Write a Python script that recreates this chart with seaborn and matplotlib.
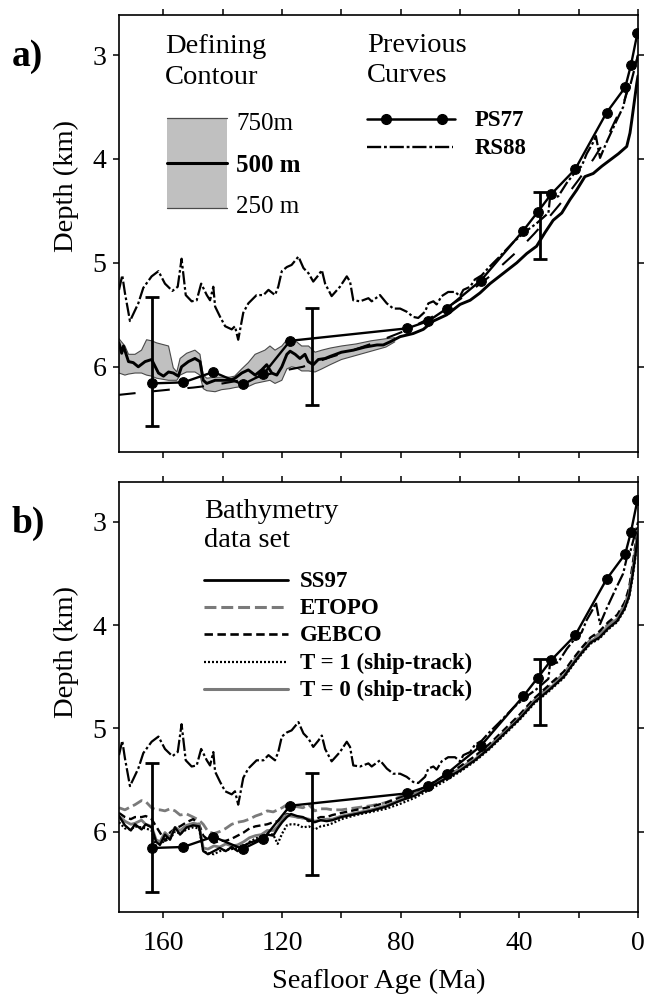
import matplotlib
matplotlib.use("Agg")
import matplotlib.pyplot as plt
from matplotlib.lines import Line2D
from matplotlib.patches import Rectangle
import seaborn as sns

# ---------------- data ----------------
# PS77 (Parsons & Sclater 1977) curve, circles
ps_age = [164, 153.3, 143.2, 133.3, 126.3, 117.3, 77.8, 70.7, 64.5, 53.0, 38.7, 33.8, 29.3, 21.2, 10.6, 4.3, 2.4, 0.2]
ps_dep = [6.16, 6.15, 6.05, 6.17, 6.07, 5.75, 5.63, 5.56, 5.44, 5.17, 4.69, 4.51, 4.34, 4.10, 3.555, 3.31, 3.10, 2.79]

# RS88 curve, dash-dot
rs_age = [175, 173.9, 173, 171.3, 168.5, 166.8, 164, 161.7, 159.5, 157, 155.2, 153.9, 152.5, 150.5, 148.8,
          147.3, 145.4, 144.3, 143.2, 142.6, 140.9, 139.2, 137, 135.9, 134.8, 133.1, 131.4, 128.6, 126.3, 124.6,
          122.4, 121.3, 120.1, 118.4, 116.8, 114.5, 112.8, 111.1, 109.5, 107.8, 106.6, 105.5, 103.3, 100.5, 98.2,
          97.1, 96, 93.7, 90.9, 89.8, 87, 84.7, 82.5, 80.2, 78, 75.8, 74.1, 71.8, 70.7, 69, 67.9, 66.2, 64, 61.7,
          60, 58.9, 56.6, 55, 52.7, 50.5, 47, 42, 38, 34.2, 30.2, 29.7, 26.9, 24, 20.7, 19, 17.3, 15.1, 14.2, 12.8,
          10.6, 7.2, 5, 3.8, 2.7, 1.6, 0.4, 0]
rs_dep = [5.26, 5.12, 5.29, 5.56, 5.39, 5.24, 5.13, 5.08, 5.20, 5.27, 5.23, 4.96, 5.31, 5.37, 5.36,
          5.20, 5.31, 5.36, 5.23, 5.42, 5.52, 5.61, 5.64, 5.61, 5.74, 5.48, 5.39, 5.31, 5.31, 5.26,
          5.31, 5.23, 5.08, 5.04, 5.02, 4.94, 5.05, 5.10, 5.18, 5.12, 5.07, 5.20, 5.32, 5.23, 5.13,
          5.18, 5.36, 5.37, 5.34, 5.37, 5.31, 5.39, 5.44, 5.44, 5.47, 5.52, 5.53, 5.47, 5.39, 5.37, 5.40, 5.32, 5.28, 5.28,
          5.32, 5.26, 5.23, 5.16, 5.12, 5.05, 4.95, 4.80, 4.70, 4.62, 4.52, 4.38, 4.36, 4.23, 4.11, 4.07, 3.95, 3.84, 3.78, 3.99,
          3.84, 3.63, 3.50, 3.35, 3.30, 3.18, 3.05, 3.00]

# unlabeled long-dashed reference curve (panel a)
ld_age = [175, 165, 158, 150, 147, 140, 130, 120, 113, 104, 95, 88, 80, 70, 60, 50, 40, 35, 30, 25, 20, 15, 10, 5, 2, 0]
ld_dep = [6.27, 6.24, 6.22, 6.20, 6.19, 6.16, 6.11, 6.04, 6.00, 5.91, 5.83, 5.76, 5.67, 5.53, 5.35, 5.13, 4.87, 4.72,
          4.56, 4.39, 4.20, 4.00, 3.77, 3.47, 3.22, 3.00]

# panel a: 500 m defining contour curve
a_age = [175, 174.1, 173.5, 171.8, 170.2, 168.5, 166.2, 164, 161.7, 160, 158.3, 156.7, 155, 153.9, 151.6, 149.4,
         147.7, 146.6, 145.4, 142.6, 140.4, 137.6, 135.9, 133.6, 131.4, 129.1, 126.9, 125.2, 123.5, 121.8, 120.1,
         118.4, 117.3, 115.6, 114, 112.3, 111.2, 109.5, 107.8, 105.5, 103.8, 100, 96, 92, 88, 85.9, 83.6, 80.2,
         75.8, 72.4, 69, 64.5, 60, 56.6, 53.3, 49.9, 45.4, 40.9, 37.5, 34.2, 31.4, 28.6, 25.7, 22.9, 20.7, 17.9,
         15.1, 12.2, 9.4, 6.6, 3.8, 2.7, 2.1, 0.4, 0]
a_500 = [5.77, 5.87, 5.80, 5.95, 5.96, 6.00, 5.95, 5.93, 6.06, 6.09, 6.05, 6.06, 6.09, 6.00, 5.95, 5.92,
         5.95, 6.13, 6.16, 6.13, 6.13, 6.13, 6.11, 6.06, 6.03, 6.08, 6.03, 5.98, 6.06, 6.08, 6.00,
         5.88, 5.85, 5.88, 5.92, 5.88, 5.95, 5.98, 5.93, 5.92, 5.90, 5.86, 5.84, 5.81, 5.79, 5.79, 5.76, 5.71,
         5.68, 5.64, 5.56, 5.50, 5.40, 5.36, 5.29, 5.20, 5.10, 5.00, 4.91, 4.84, 4.71, 4.59, 4.52, 4.39, 4.30, 4.17,
         4.14, 4.07, 4.01, 3.95, 3.88, 3.75, 3.63, 3.27, 3.20]

# panel a: 750 m / 250 m contour envelope
band_age = [175, 173, 171.8, 169.6, 167.4, 165.7, 164, 162.3, 158.3, 156.7, 155.5, 154.4, 152.2, 149.4, 147.7, 146.6,
            145.4, 142.6, 140.4, 137.6, 136, 133.6, 131.4, 129.1, 125.8, 124.1, 122.4, 120.1, 118.4, 116.8, 115.1,
            113.4, 111.1, 108.9, 106.6, 103.8, 100, 95, 90, 85, 82]
band_top = [5.73, 5.80, 5.88, 5.88, 5.84, 5.74, 5.75, 5.77, 5.80, 6.01, 6.05, 5.92, 5.87, 5.84, 5.88, 6.08,
            6.11, 6.10, 6.10, 6.10, 6.09, 6.02, 5.96, 5.88, 5.84, 5.80, 5.84, 5.80, 5.74, 5.74, 5.76,
            5.80, 5.80, 5.86, 5.84, 5.82, 5.80, 5.78, 5.75, 5.73, 5.72]
band_bot = [6.06, 6.08, 6.07, 6.06, 6.06, 6.08, 6.09, 6.11, 6.13, 6.13, 6.13, 6.08, 6.05, 6.05, 6.08, 6.21,
            6.23, 6.24, 6.22, 6.21, 6.20, 6.19, 6.19, 6.16, 6.14, 6.13, 6.16, 6.13, 6.02, 6.00, 6.01,
            6.04, 6.04, 6.05, 6.02, 5.98, 5.93, 5.89, 5.85, 5.81, 5.76]

# panel b: bathymetry data sets
b_age = [175, 173, 171, 169.6, 167.4, 166, 164, 162.5, 161.2, 159.5, 157.8, 156.1, 154.4, 152.2, 150, 148, 146.6,
         145, 143, 141, 139, 137, 135, 133, 131, 129, 127, 125, 123, 121.5, 120, 118.4, 117, 115, 113, 111, 109,
         107, 105, 103, 100, 95, 90, 85, 80, 75, 70, 65, 60, 55, 50, 45, 40, 35, 30, 25, 22, 19, 16, 13, 10, 7,
         4.5, 3, 2, 1, 0]
ss97 = [5.85, 5.94, 5.99, 5.93, 5.98, 5.93, 5.96, 6.10, 6.13, 6.03, 6.08, 5.96, 6.03, 5.96, 5.94, 5.95, 6.19,
        6.22, 6.19, 6.16, 6.19, 6.15, 6.19, 6.14, 6.11, 6.09, 6.06, 6.03, 6.04, 5.97, 5.91, 5.86, 5.83, 5.85, 5.86, 5.89, 5.91,
        5.89, 5.90, 5.89, 5.86, 5.83, 5.80, 5.76, 5.70, 5.65, 5.57, 5.49, 5.41, 5.31, 5.19, 5.05, 4.91, 4.75, 4.63, 4.50, 4.38,
        4.27, 4.17, 4.12, 4.03, 3.96, 3.84, 3.72, 3.55, 3.35, 3.12]
etopo = [5.77, 5.79, 5.76, 5.74, 5.70, 5.71, 5.77, 5.79, 5.79, 5.80, 5.78, 5.80, 5.84, 5.83, 5.86, 5.89, 5.93,
         6.00, 6.02, 6.00, 5.97, 5.93, 5.91, 5.90, 5.88, 5.85, 5.83, 5.80, 5.81, 5.79, 5.77, 5.74, 5.74, 5.76, 5.77, 5.74, 5.80,
         5.78, 5.78, 5.79, 5.79, 5.77, 5.75, 5.72, 5.66, 5.62, 5.55, 5.47, 5.39, 5.29, 5.17, 5.03, 4.89, 4.73, 4.60, 4.47, 4.35,
         4.24, 4.14, 4.08, 3.99, 3.92, 3.80, 3.68, 3.50, 3.30, 3.08]
gebco = [5.82, 5.86, 5.88, 5.86, 5.86, 5.85, 5.88, 5.95, 6.01, 6.09, 6.01, 5.97, 5.95, 5.91, 5.88, 5.93, 6.04,
         6.08, 6.11, 6.09, 6.09, 6.07, 6.04, 6.01, 5.97, 5.95, 5.94, 5.93, 5.91, 5.90, 5.86, 5.83, 5.84, 5.86, 5.87, 5.90, 5.88,
         5.86, 5.86, 5.84, 5.82, 5.79, 5.76, 5.72, 5.67, 5.62, 5.54, 5.46, 5.37, 5.27, 5.15, 5.01, 4.87, 4.71, 4.58, 4.45, 4.33,
         4.22, 4.12, 4.06, 3.97, 3.90, 3.78, 3.64, 3.45, 3.25, 3.05]
t1_ship = [5.91, 5.97, 5.98, 5.95, 5.96, 5.97, 5.99, 6.14, 6.12, 6.09, 6.07, 6.00, 6.02, 5.98, 5.96, 5.97, 6.19,
           6.21, 6.22, 6.19, 6.18, 6.17, 6.16, 6.15, 6.10, 6.07, 6.04, 6.02, 6.03, 6.12, 6.02, 5.94, 5.93, 5.93, 5.96, 5.95, 5.98,
           5.95, 5.94, 5.92, 5.88, 5.84, 5.81, 5.78, 5.73, 5.67, 5.59, 5.51, 5.42, 5.32, 5.20, 5.06, 4.92, 4.76, 4.64, 4.51, 4.39,
           4.28, 4.18, 4.13, 4.04, 3.97, 3.85, 3.73, 3.57, 3.37, 3.14]
t0_ship = [5.85, 5.90, 5.93, 5.92, 5.89, 5.93, 5.95, 6.08, 6.10, 6.01, 6.06, 5.96, 5.99, 5.94, 5.92, 5.93, 6.16,
           6.17, 6.14, 6.15, 6.12, 6.14, 6.13, 6.10, 6.06, 6.04, 6.03, 5.99, 5.99, 5.95, 5.88, 5.84, 5.85, 5.86, 5.87, 5.88, 5.90,
           5.89, 5.88, 5.88, 5.85, 5.82, 5.79, 5.75, 5.69, 5.64, 5.56, 5.48, 5.40, 5.30, 5.18, 5.04, 4.90, 4.74, 4.62, 4.49, 4.37,
           4.26, 4.16, 4.10, 4.01, 3.94, 3.82, 3.70, 3.52, 3.32, 3.10]

# error bars
err_age = [164, 110, 33]
err_mid = [5.95, 5.90, 4.64]
err_half = [0.62, 0.47, 0.32]

x_ticks = [0, 40, 80, 120, 160]
x_minor = [20, 60, 100, 140]
y_ticks = [3, 4, 5, 6]

# ---------------- style ----------------
sns.set_theme(style="ticks")
plt.rcParams['font.family'] = ['Liberation Serif', 'DejaVu Serif']
plt.rcParams['axes.linewidth'] = 1.2
for k in ('text.color', 'axes.labelcolor', 'xtick.color', 'ytick.color', 'axes.edgecolor'):
    plt.rcParams[k] = 'black'

W, H = 645, 996
fig = plt.figure(figsize=(W / 100, H / 100), dpi=100)
fig.patch.set_facecolor('white')


def fx(x):
    return x / W


def fy(y):
    return 1 - y / H


axa = fig.add_axes([fx(119), fy(452), (638 - 119) / W, (452 - 15) / H])
axb = fig.add_axes([fx(119), fy(912), (638 - 119) / W, (912 - 482) / H])

RS_LS = (0, (6.0, 1.2, 1.2, 1.2))
LD_LS = (0, (8, 8.5))
ET_LS = (0, (3.9, 1.6))
GE_LS = (0, (3.2, 1.7))
T1_LS = (0, (0.9, 0.9))
GREY = '#7a7a7a'
BANDC = '#c0c0c0'


def line(ax, x, y, **kw):
    sns.lineplot(x=x, y=y, ax=ax, sort=False, estimator=None, legend=False, **kw)


# ---- panel a ----
axa.fill_between(band_age, band_top, band_bot, facecolor=BANDC, edgecolor='none', zorder=1)
line(axa, band_age, band_top, color='#4a4a4a', linewidth=0.8)
line(axa, band_age, band_bot, color='#4a4a4a', linewidth=0.8)
line(axa, ld_age, ld_dep, color='black', linewidth=1.5, linestyle=LD_LS)
line(axa, a_age, a_500, color='black', linewidth=2.1)
line(axa, rs_age, rs_dep, color='black', linewidth=1.6, linestyle=RS_LS)
line(axa, ps_age, ps_dep, color='black', linewidth=1.7, marker='o', markersize=7,
     markeredgecolor='black', markerfacecolor='black')
axa.errorbar(err_age, err_mid, yerr=err_half, fmt='none', ecolor='black', elinewidth=2.0,
             capsize=4.7, capthick=2.0, zorder=5)

# ---- panel b ----
line(axb, b_age, etopo, color=GREY, linewidth=2.0, linestyle=ET_LS)
line(axb, b_age, gebco, color='black', linewidth=1.7, linestyle=GE_LS)
line(axb, b_age, t1_ship, color='black', linewidth=1.6, linestyle=T1_LS)
line(axb, b_age, t0_ship, color=GREY, linewidth=2.0)
line(axb, b_age, ss97, color='black', linewidth=1.7)
line(axb, rs_age, rs_dep, color='black', linewidth=1.6, linestyle=RS_LS)
line(axb, ps_age, ps_dep, color='black', linewidth=1.7, marker='o', markersize=7,
     markeredgecolor='black', markerfacecolor='black')
axb.errorbar(err_age, err_mid, yerr=[[0.61, 0.47, 0.31], [0.64, 0.52, 0.33]], fmt='none', ecolor='black',
             elinewidth=2.0, capsize=4.7, capthick=2.0, zorder=5)

for ax, ylim in ((axa, (6.82, 2.615)), (axb, (6.78, 2.613))):
    ax.set_xlim(175, 0)
    ax.set_ylim(*ylim)
    ax.set_xticks(x_ticks)
    ax.set_xticks(x_minor, minor=True)
    ax.set_yticks(y_ticks)
    ax.set_xlabel('')
    ax.set_ylabel('')
    ax.tick_params(which='both', direction='out', length=4, width=1.1, top=True, right=True,
                   labelsize=20, colors='black')
    ax.tick_params(axis='x', pad=10)
    ax.tick_params(axis='y', pad=5)
    for s in ax.spines.values():
        s.set_visible(True)
        s.set_color('black')
        s.set_linewidth(1.2)
    ax.set_facecolor('white')
axa.tick_params(axis='x', labelbottom=False)
axb.set_xticklabels([str(v) for v in x_ticks])

# ---------------- annotations / legends ----------------
FS = 20.5
fig.text(fx(12), fy(57), 'a)', fontsize=27, fontweight='bold', ha='left', va='center')
fig.text(fx(12), fy(523), 'b)', fontsize=27, fontweight='bold', ha='left', va='center')
fig.text(fx(66), fy(186), 'Depth (km)', fontsize=FS, rotation=90, ha='center', va='center')
fig.text(fx(66), fy(652), 'Depth (km)', fontsize=FS, rotation=90, ha='center', va='center')
fig.text(fx(379), fy(988), 'Seafloor Age (Ma)', fontsize=FS, ha='center', va='baseline')

# panel a: defining contour legend
fig.text(fx(165), fy(53), 'Defining', fontsize=FS, ha='left', va='baseline')
fig.text(fx(165), fy(84), 'Contour', fontsize=FS, ha='left', va='baseline')
fig.patches.append(Rectangle((fx(167), fy(208)), (227 - 167) / W, (208 - 118) / H,
                             transform=fig.transFigure, facecolor=BANDC, edgecolor='none'))
for yy, c, lw in ((118, '#4a4a4a', 0.9), (208, '#4a4a4a', 0.9), (163, 'black', 2.2)):
    fig.lines.append(Line2D([fx(167), fx(227)], [fy(yy), fy(yy)], transform=fig.transFigure,
                            color=c, linewidth=lw))
fig.text(fx(236), fy(124), '750m', fontsize=18, ha='left', va='center')
fig.text(fx(236), fy(166), '500 m', fontsize=18, fontweight='bold', ha='left', va='center')
fig.text(fx(236), fy(207), '250 m', fontsize=18, ha='left', va='center')

# panel a: previous curves legend
fig.text(fx(367), fy(52), 'Previous', fontsize=FS, ha='left', va='baseline')
fig.text(fx(367), fy(82), 'Curves', fontsize=FS, ha='left', va='baseline')
fig.lines.append(Line2D([fx(367), fx(455)], [fy(119), fy(119)], transform=fig.transFigure,
                        color='black', linewidth=1.8))
fig.lines.append(Line2D([fx(386), fx(442)], [fy(119), fy(119)], transform=fig.transFigure,
                        linestyle='none', marker='o', markersize=7, color='black'))
fig.lines.append(Line2D([fx(367), fx(453)], [fy(147), fy(147)], transform=fig.transFigure,
                        color='black', linewidth=1.7, linestyle=RS_LS))
fig.text(fx(475), fy(120), 'PS77', fontsize=16.5, fontweight='bold', ha='left', va='center')
fig.text(fx(475), fy(148), 'RS88', fontsize=16.5, fontweight='bold', ha='left', va='center')

# panel b: bathymetry data set legend
fig.text(fx(204), fy(518), 'Bathymetry', fontsize=FS, ha='left', va='baseline')
fig.text(fx(204), fy(547), 'data set', fontsize=FS, ha='left', va='baseline')
leg_items = [
    ('SS97', 580, dict(color='black', linewidth=2.0)),
    ('ETOPO', 607, dict(color=GREY, linewidth=2.2, linestyle=ET_LS)),
    ('GEBCO', 634, dict(color='black', linewidth=1.9, linestyle=GE_LS)),
    ('T = 1 (ship-track)', 662, dict(color='black', linewidth=1.6, linestyle=T1_LS)),
    ('T = 0 (ship-track)', 689, dict(color=GREY, linewidth=2.2)),
]
for lab, yy, kw in leg_items:
    fig.lines.append(Line2D([fx(204), fx(288)], [fy(yy), fy(yy)], transform=fig.transFigure, **kw))
    fig.text(fx(300), fy(yy + 1), lab, fontsize=16.5, fontweight='bold', ha='left', va='center')

fig.savefig('out.png', dpi=100, facecolor='white')
